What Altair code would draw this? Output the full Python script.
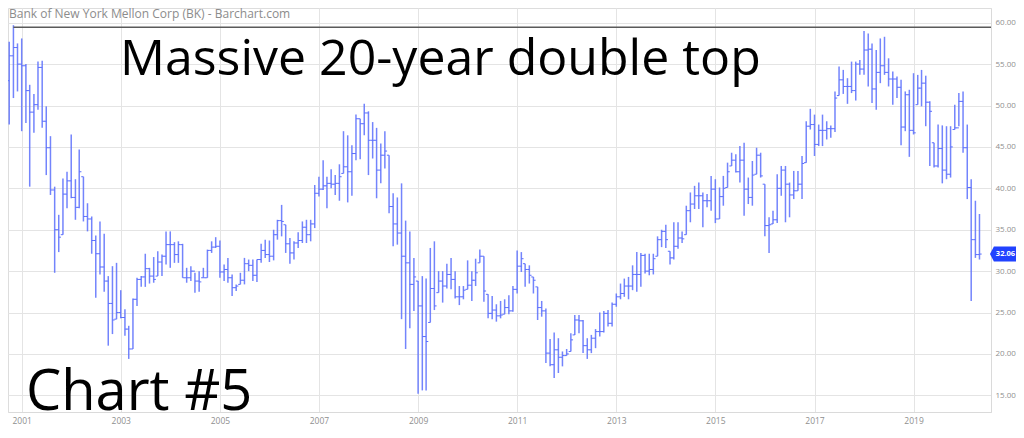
import altair as alt
import pandas as pd

FONT = "Open Sans"
BAR_BLUE = "#5b6ffc"
TAG_BLUE = "#2142ff"

# Monthly OHLC bars, Bank of New York Mellon (BK), Aug 2000 - May 2020
start_month = "2000-08-01"

highs = [
    53.9, 58.1, 57.7, 59.7, 57.5, 58.1, 55.0, 52.5, 51.4, 55.3, 55.4, 49.9, 46.3, 40.2, 36.8, 41.2,
    42.0, 46.5, 41.1, 44.7, 41.4, 38.2, 36.6, 34.3, 36.0, 34.5, 29.4, 30.6, 31.0, 27.7, 25.4, 23.4,
    26.7, 29.2, 29.4, 32.1, 30.4, 31.7, 32.4, 32.0, 34.8,
    34.8, 33.5, 33.6, 33.3, 30.4, 30.6, 29.8, 30.0, 30.4, 32.6, 33.6, 34.1, 33.7, 30.8, 31.6, 29.6,
    28.4, 29.8, 31.6, 31.4, 31.4, 31.4, 33.3, 33.8, 33.7, 35.0, 36.2, 38.0, 35.6, 34.0, 33.6, 34.7,
    36.0, 36.2, 36.2, 40.4, 41.4, 43.4, 41.4, 42.3,
    41.6, 42.9, 46.9, 46.4, 45.2, 48.9, 48.4, 50.2, 49.3, 48.0, 47.3, 45.4, 46.9, 44.0, 39.4, 38.9,
    40.6, 36.1, 34.8, 31.6, 28.8, 29.4, 29.1, 32.8, 33.6, 30.0, 30.0, 30.9, 31.6, 30.0, 28.2, 28.2,
    31.3, 30.0, 31.5, 32.6, 31.8, 27.2, 27.0, 26.0,
    26.4, 26.6, 27.1, 28.2, 32.5, 32.3, 30.9, 30.7, 29.3, 28.1, 26.4, 25.5, 21.8, 22.6, 21.9, 20.3,
    20.6, 22.5, 24.7, 24.7, 24.1, 21.9, 22.3, 23.0, 25.0, 25.2, 25.3, 26.2, 27.3, 28.5, 29.1, 29.3,
    30.7, 32.3, 32.2, 32.1, 32.1, 32.1, 34.2, 35.0,
    35.6, 32.4, 35.9, 35.9, 34.8, 37.9, 39.5, 40.3, 40.7, 39.5, 39.3, 41.5, 41.1, 40.1, 41.5, 43.1,
    44.3, 44.1, 45.1, 45.5, 41.3, 43.3, 44.9, 44.3, 40.5, 36.5, 37.3, 41.7, 42.7, 42.7, 40.7, 42.1,
    42.1, 43.9, 48.1, 49.6, 48.9, 47.7, 48.9, 48.1,
    47.6, 51.7, 54.7, 54.3, 53.3, 55.3, 55.3, 55.5, 59.0, 58.7, 57.5, 56.7, 58.1, 58.3, 55.7, 54.1,
    53.5, 53.1, 51.7, 51.9, 53.9, 53.7, 54.3, 53.6, 50.5, 45.5, 47.7, 47.6, 47.5, 47.5, 50.1, 51.5,
    51.7, 47.7, 41.1, 38.5, 36.9,
]

lows = [
    46.1, 49.7, 47.7, 50.9, 51.7, 46.9, 47.9, 40.2, 46.7, 49.5, 47.3, 41.6, 39.2, 29.8, 32.3, 34.4,
    37.6, 38.8, 36.2, 37.6, 36.0, 34.8, 32.1, 26.8, 29.6, 27.5, 21.0, 22.4, 24.2, 24.3, 22.2, 19.4,
    20.6, 25.8, 28.1, 28.1, 28.5, 28.6, 29.4, 29.4, 30.8,
    30.4, 31.0, 31.0, 29.2, 28.6, 28.8, 27.4, 27.5, 29.2, 29.2, 32.2, 32.8, 29.2, 28.8, 28.6, 27.0,
    27.6, 28.4, 28.4, 30.0, 28.8, 28.7, 31.0, 31.6, 31.1, 31.3, 33.8, 34.2, 32.2, 30.9, 31.4, 32.8,
    33.4, 33.4, 33.6, 35.2, 39.0, 39.8, 37.6, 40.0,
    39.2, 38.5, 41.8, 38.3, 39.1, 43.4, 43.5, 46.4, 41.6, 43.6, 38.8, 40.6, 42.4, 37.0, 33.0, 33.2,
    24.2, 20.6, 23.1, 25.2, 15.2, 15.6, 15.6, 23.8, 25.3, 27.4, 26.2, 27.9, 27.8, 26.7, 25.9, 26.6,
    27.8, 26.4, 28.2, 31.0, 26.3, 24.3, 24.2, 23.9,
    24.3, 24.8, 24.8, 25.1, 27.3, 29.9, 28.1, 28.5, 27.3, 24.1, 24.5, 18.9, 18.5, 17.1, 17.7, 18.5,
    19.8, 20.3, 22.3, 22.5, 20.1, 19.4, 20.1, 20.7, 22.1, 22.6, 23.3, 23.3, 25.7, 26.6, 26.9, 26.6,
    27.7, 27.5, 28.1, 29.7, 29.5, 29.6, 31.8, 32.9,
    32.8, 30.8, 31.4, 32.7, 33.4, 34.4, 35.9, 37.5, 37.5, 35.3, 37.7, 37.3, 35.8, 36.3, 37.9, 40.1,
    42.7, 41.9, 40.7, 36.7, 38.1, 37.9, 41.7, 41.3, 34.2, 32.2, 35.7, 35.8, 39.1, 35.9, 36.5, 38.7,
    39.7, 38.7, 43.1, 47.1, 43.9, 45.1, 45.1, 45.9,
    46.1, 46.8, 51.2, 51.4, 50.2, 51.5, 50.6, 53.7, 53.7, 52.3, 50.3, 49.5, 52.7, 53.7, 52.3, 50.1,
    50.9, 45.2, 46.9, 43.8, 46.5, 50.1, 49.9, 47.5, 42.7, 42.5, 42.5, 40.6, 41.1, 41.3, 47.1, 47.5,
    44.3, 38.7, 26.4, 31.6, 31.4,
]

opens = [
    47.0, 52.5, 53.0, 56.0, 57.0, 55.0, 54.8, 51.8, 49.2, 50.1, 54.6, 48.1, 44.9, 39.8, 35.0, 34.4,
    39.3, 40.9, 38.9, 37.7, 41.4, 36.6, 36.3, 33.7, 32.1, 30.5, 28.8, 26.1, 24.2, 25.0, 24.4, 23.0,
    20.6, 26.6, 29.0, 29.3, 30.3, 29.4, 29.4, 31.1, 31.8,
    33.2, 33.2, 32.0, 33.2, 29.2, 29.2, 30.0, 28.8, 29.2, 29.2, 32.5, 32.9, 33.0, 29.9, 30.2, 29.2,
    28.0, 28.4, 28.9, 30.9, 30.7, 29.5, 31.4, 32.5, 32.0, 31.8, 34.4, 36.1, 35.6, 33.3, 32.2, 33.4,
    33.7, 35.3, 34.4, 35.7, 39.4, 39.9, 40.3, 40.6,
    40.5, 40.6, 41.8, 42.6, 42.0, 44.2, 48.4, 47.8, 49.1, 45.8, 45.8, 42.2, 44.0, 44.0, 37.8, 35.7,
    34.6, 31.8, 31.0, 28.4, 28.8, 25.8, 22.1, 23.8, 27.9, 27.4, 28.8, 28.2, 29.6, 29.0, 26.9, 26.9,
    27.8, 28.3, 28.9, 31.0, 31.8, 27.2, 24.9, 25.3,
    24.6, 24.8, 25.6, 25.2, 27.8, 30.6, 30.9, 30.2, 29.3, 28.1, 25.6, 25.2, 20.1, 18.7, 20.5, 19.6,
    19.8, 20.3, 22.3, 24.1, 24.0, 21.0, 20.5, 21.9, 22.7, 22.7, 24.9, 23.7, 26.0, 26.9, 27.3, 28.2,
    28.2, 29.6, 29.6, 31.9, 30.0, 30.2, 31.8, 33.8,
    34.8, 32.4, 31.6, 33.0, 34.0, 34.4, 37.3, 38.1, 39.1, 39.1, 38.5, 38.5, 39.9, 36.3, 39.0, 40.1,
    42.7, 43.4, 42.0, 43.4, 39.9, 38.9, 41.7, 44.0, 40.5, 35.5, 35.7, 36.2, 40.0, 42.2, 40.5, 39.2,
    39.7, 40.5, 43.1, 47.5, 47.7, 45.3, 47.0, 47.0,
    47.2, 47.2, 51.2, 53.1, 52.3, 52.3, 51.8, 55.0, 54.4, 56.7, 56.8, 52.0, 54.0, 54.8, 54.0, 53.2,
    53.2, 52.2, 47.4, 51.3, 47.0, 50.1, 52.1, 52.7, 50.4, 45.5, 42.7, 44.8, 42.2, 41.7, 47.1, 47.3,
    50.5, 44.9, 40.1, 33.8, 32.0,
]

closes = [
    52.5, 53.0, 56.0, 57.0, 55.0, 54.8, 51.8, 49.2, 50.1, 54.6, 48.1, 44.9, 39.8, 35.0, 34.1, 39.3,
    40.9, 38.9, 37.7, 42.0, 36.6, 36.3, 33.7, 32.1, 30.5, 28.8, 26.1, 24.1, 25.0, 24.4, 23.0, 20.6,
    26.6, 29.0, 29.3, 30.3, 29.4, 29.0, 31.1, 31.8, 33.2,
    33.2, 32.0, 33.2, 29.2, 29.2, 30.0, 28.8, 28.7, 29.2, 32.5, 32.9, 33.0, 29.9, 30.2, 29.2, 28.0,
    28.2, 28.9, 30.9, 30.7, 29.5, 31.4, 32.5, 32.0, 31.8, 34.4, 36.1, 36.0, 33.3, 32.2, 33.4, 33.7,
    35.3, 34.4, 35.7, 39.4, 39.9, 40.3, 40.6, 40.5,
    40.6, 41.4, 42.6, 42.0, 44.2, 48.4, 47.8, 49.1, 45.8, 45.8, 42.2, 44.0, 44.5, 37.8, 35.7, 34.6,
    31.8, 31.0, 28.4, 29.3, 25.8, 22.1, 21.5, 27.9, 25.8, 28.8, 28.2, 29.6, 29.0, 26.9, 26.9, 27.7,
    28.3, 28.9, 29.8, 31.8, 27.6, 24.9, 25.3, 24.6,
    24.7, 25.6, 25.2, 27.8, 30.6, 31.5, 30.2, 29.5, 28.9, 25.6, 25.2, 20.1, 18.7, 20.5, 19.6, 19.8,
    20.0, 21.7, 24.1, 24.0, 21.0, 20.5, 21.9, 22.7, 22.7, 24.9, 23.7, 26.0, 26.9, 27.3, 28.2, 28.2,
    29.6, 29.6, 31.9, 30.0, 30.2, 31.5, 33.8, 34.8,
    33.8, 31.6, 33.0, 34.0, 33.9, 37.3, 38.1, 39.1, 39.1, 38.5, 38.5, 39.9, 36.3, 39.0, 40.0, 42.0,
    43.4, 42.0, 43.4, 39.9, 38.9, 41.6, 44.0, 41.5, 35.5, 35.6, 36.2, 40.0, 42.2, 40.5, 39.2, 39.7,
    40.5, 43.0, 47.5, 47.7, 45.3, 47.0, 47.0, 47.2,
    47.2, 50.9, 53.1, 52.3, 52.3, 51.8, 55.0, 54.4, 56.7, 56.8, 52.0, 54.0, 54.8, 54.0, 53.2, 53.2,
    52.2, 47.4, 51.3, 47.0, 46.7, 52.1, 52.7, 50.4, 49.3, 42.7, 44.8, 42.2, 41.7, 45.0, 47.3, 50.5,
    44.9, 40.1, 33.8, 32.0, 32.06,
]

y_tick_values = [15, 20, 25, 30, 35, 40, 45, 50, 55, 60]
x_tick_years = [2001, 2003, 2005, 2007, 2009, 2011, 2013, 2015, 2017, 2019]
resistance_level = 59.45
last_price = 32.06

header_text = "Bank of New York Mellon Corp (BK) - Barchart.com"
headline_text = "Massive 20-year double top"
chart_label_text = "Chart #5"

months = pd.date_range(start_month, periods=len(highs), freq="MS")
bars = pd.DataFrame({
    "date": months,
    "open": opens,
    "high": highs,
    "low": lows,
    "close": closes,
})

W, H = 983, 404

xscale = alt.Scale(domain=[alt.DateTime(year=2000, month=9, date=22),
                           alt.DateTime(year=2020, month=7, date=25)])
yscale = alt.Scale(domain=[12.99, 61.775], nice=False, zero=False)

xaxis = alt.Axis(
    values=[alt.DateTime(year=y, month=1, date=1) for y in x_tick_years],
    format="%Y", title=None, grid=True, gridColor="#e4e4e4", gridWidth=1,
    ticks=False, domain=True, domainColor="#dadada", labelColor="#8f8f8f",
    labelFont=FONT, labelFontSize=8.5, labelPadding=4,
)
yaxis = alt.Axis(
    values=y_tick_values, format=".2f", orient="right", title=None, grid=True,
    gridColor="#e4e4e4", gridWidth=1, ticks=False, domain=True, domainColor="#dadada",
    labelColor="#8f8f8f", labelFont=FONT, labelFontSize=8, labelPadding=4,
)

base = alt.Chart(bars)

hl = base.mark_rule(color=BAR_BLUE, strokeWidth=1.5, opacity=0.85, clip=True).encode(
    x=alt.X("date:T", scale=xscale, axis=xaxis),
    y=alt.Y("low:Q", scale=yscale, axis=yaxis),
    y2="high:Q",
)
open_tick = base.mark_rule(color=BAR_BLUE, strokeWidth=1, x2Offset=-2.2, clip=True).encode(
    x="date:T", x2="date:T", y="open:Q",
)
close_tick = base.mark_rule(color=BAR_BLUE, strokeWidth=1, x2Offset=2.2, clip=True).encode(
    x="date:T", x2="date:T", y="close:Q",
)

res_df = pd.DataFrame({
    "start": [pd.Timestamp("2000-11-01")],
    "end": [pd.Timestamp("2020-07-25")],
    "level": [resistance_level],
})
resistance = alt.Chart(res_df).mark_rule(color="#5a5a5a", strokeWidth=1.4, clip=True).encode(
    x="start:T", x2="end:T", y="level:Q",
)

header = alt.Chart(pd.DataFrame({"t": [header_text]})).mark_text(
    font=FONT, fontSize=12, color="#8c8c8c", align="left", baseline="top",
).encode(x=alt.value(1), y=alt.value(1), text="t:N")

headline = alt.Chart(pd.DataFrame({"t": [headline_text]})).mark_text(
    font=FONT, fontSize=50, color="#000000", align="left", baseline="alphabetic",
).encode(x=alt.value(112), y=alt.value(67), text="t:N")

chart_label = alt.Chart(pd.DataFrame({"t": [chart_label_text]})).mark_text(
    font=FONT, fontSize=56, color="#000000", align="left", baseline="bottom",
).encode(x=alt.value(18), y=alt.value(414), text="t:N")

tag_df = pd.DataFrame({"price": [last_price], "label": [f"{last_price:.2f}"]})
tag_shape = "M-1,0 L-0.7,-0.58 L1,-0.58 L1,0.58 L-0.7,0.58 Z"
tag = alt.Chart(tag_df).mark_point(
    shape=tag_shape, filled=True, color=TAG_BLUE, opacity=1, size=676, strokeWidth=0,
).encode(x=alt.value(995), y="price:Q")
tag_text = alt.Chart(tag_df).mark_text(
    font=FONT, fontSize=7.5, fontWeight="bold", color="#ffffff", align="center",
    baseline="middle",
).encode(x=alt.value(997.5), y="price:Q", text="label:N")

chart = alt.layer(
    hl, open_tick, close_tick, resistance, header, headline, chart_label, tag, tag_text
).properties(
    width=W, height=H,
    autosize=alt.AutoSizeParams(type="none"),
    padding={"left": 0, "top": 0, "right": 25, "bottom": 12},
).configure_view(stroke=None).configure(background="#ffffff")

chart.save("out.html", embed_options={"renderer": "svg", "actions": False})
